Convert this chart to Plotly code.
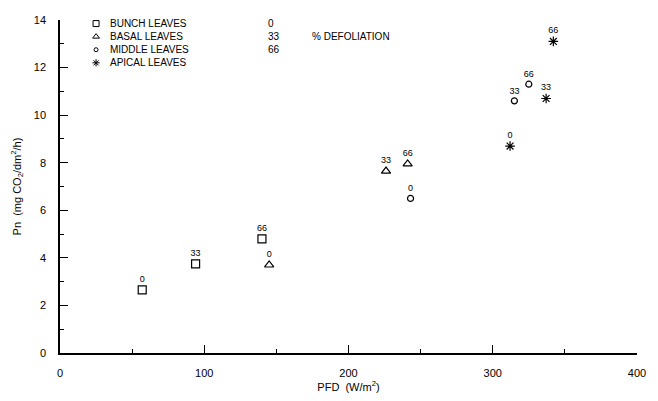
import plotly.graph_objects as go

# Data: PFD (W/m2), Pn (mg CO2/dm2/h), defoliation label
bunch_x = [57, 94, 140]
bunch_y = [2.65, 3.75, 4.8]
basal_x = [145, 226, 241]
basal_y = [3.7, 7.65, 7.95]
middle_x = [243, 315, 325]
middle_y = [6.5, 10.6, 11.3]
apical_x = [312, 337, 342]
apical_y = [8.7, 10.7, 13.1]
defol_labels = ["0", "33", "66"]

legend_names = ["BUNCH LEAVES", "BASAL LEAVES", "MIDDLE LEAVES", "APICAL LEAVES"]
legend_row_y = [13.85, 13.3, 12.75, 12.2]
legend_sym_x = [25, 25, 25, 25]

FONT = "Liberation Sans"
fig = go.Figure()

series = [
    (bunch_x, bunch_y, "square-open", 8),
    (basal_x, basal_y, "triangle-up-open", 8),
    (middle_x, middle_y, "circle-open", 6),
    (apical_x, apical_y, "asterisk-open", 8),
]
for i, (xs, ys, sym, sz) in enumerate(series):
    fig.add_trace(go.Scatter(
        x=xs, y=ys, mode="markers+text",
        text=defol_labels, textposition="top center",
        textfont=dict(family=FONT, size=9, color="black"),
        marker=dict(symbol=sym, size=sz, color="black", line=dict(color="black", width=1.2)),
        showlegend=False, cliponaxis=False,
    ))
    # legend key symbol
    fig.add_trace(go.Scatter(
        x=[legend_sym_x[i]], y=[legend_row_y[i]], mode="markers",
        marker=dict(symbol=sym, size=sz - 2, color="black", line=dict(color="black", width=1)),
        showlegend=False, hoverinfo="skip",
    ))

for i, nm in enumerate(legend_names):
    fig.add_annotation(x=33, y=legend_row_y[i], text=nm, showarrow=False, xanchor="left",
                       font=dict(family=FONT, size=10, color="black"))
for i, lb in enumerate(defol_labels):
    fig.add_annotation(x=143, y=legend_row_y[i], text=lb, showarrow=False, xanchor="left",
                       font=dict(family=FONT, size=10, color="black"))
fig.add_annotation(x=173, y=legend_row_y[1], text="% DEFOLIATION", showarrow=False, xanchor="left",
                   font=dict(family=FONT, size=10, color="black"))

fig.update_xaxes(
    range=[0, 400], tickvals=[0, 100, 200, 300, 400], ticks="inside", ticklen=8,
    tickcolor="black", tickwidth=1.2, showline=True, linecolor="black", linewidth=1.5,
    showgrid=False, zeroline=False, ticklabelstandoff=9,
    minor=dict(ticks="inside", ticklen=4, tickvals=[50, 150, 250, 350], tickcolor="black"),
    title=dict(text="PFD  (W/m<sup>2</sup>)", standoff=2, font=dict(family=FONT, size=11)),
    tickfont=dict(family=FONT, size=11, color="black"),
)
fig.update_yaxes(
    range=[0, 14], tickvals=list(range(0, 15, 2)), ticks="inside", ticklen=8,
    tickcolor="black", tickwidth=1.2, showline=True, linecolor="black", linewidth=1.5,
    showgrid=False, zeroline=False, ticklabelstandoff=10,
    minor=dict(ticks="inside", ticklen=4, tickvals=list(range(1, 14, 2)), tickcolor="black"),
    title=dict(text="Pn  (mg CO<sub>2</sub>/dm<sup>2</sup>/h)", standoff=10, font=dict(family=FONT, size=11)),
    tickfont=dict(family=FONT, size=11, color="black"),
)
fig.update_layout(
    width=658, height=401, margin=dict(l=60, r=12, t=20, b=38),
    paper_bgcolor="white", plot_bgcolor="white",
    font=dict(family=FONT, color="black"),
)
fig.write_html("out.html")
